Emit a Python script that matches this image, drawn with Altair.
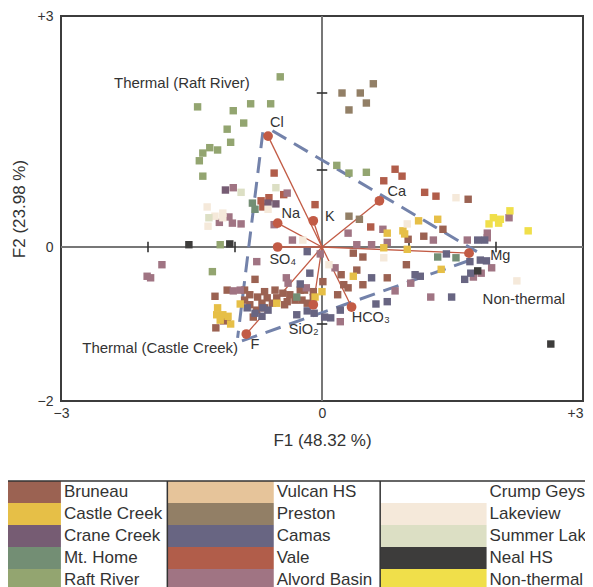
import altair as alt
import pandas as pd

FONT = "Liberation Sans"
TXT = "#333333"

groups = ["Bruneau", "Castle Creek", "Crane Creek", "Mt. Home", "Raft River",
          "Vulcan HS", "Preston", "Camas", "Vale", "Alvord Basin",
          "Crump Geyser", "Lakeview", "Summer Lake", "Neal HS", "Non-thermal"]
colors = ["#9b6252", "#e6bf47", "#765c73", "#738e74", "#93a570",
          "#e6c49a", "#927f66", "#686582", "#b15d4a", "#a07483",
          "#ffffff", "#f5e9da", "#dcdfc4", "#3d3c3b", "#f0df4a"]

# ---- sample scores (F1, F2) ----
bruneau_f1 = [1.68, 1.39, 1.17, 0.99, 0.36, 0.47, 0.22, 0.40, 0.25, 0.30, 0.47, 0.75, 0.97, 0.18, 0.01,
              -0.77, -1.23, -1.09, -0.89, -0.83, -0.74, -0.66, -0.54, -0.45, -0.37, -0.20, -0.10, -0.63,
              -0.52, -0.40, -0.57, -0.69, -0.83, -0.89, -0.66, -0.75, -0.79, -0.23, -0.17, -0.43, -0.10,
              -1.13, -1.22, -1.09, -0.25, -0.31]
bruneau_f2 = [0.62, 0.23, 0.14, 0.10, -0.08, -0.13, -0.36, -0.30, -0.49, -0.53, -0.49, -0.40, -0.23, -0.62, -0.45,
              -0.42, -0.64, -0.56, -0.56, -0.62, -0.65, -0.58, -0.56, -0.60, -0.62, -0.56, -0.58, -0.66,
              -0.66, -0.71, -0.73, -0.73, -0.75, -0.69, -0.79, -0.82, -0.91, -0.69, -0.73, -0.75, -0.66,
              -0.96, -1.05, -0.95, -0.56, -0.69]

castle_f1 = [-1.20, -1.21, -1.14, -1.08, -1.17, -1.05, -0.94, -0.52, 0.00, -0.08, 0.75, 0.93, 0.95, 0.71,
             0.98, 0.36, 1.37, 1.11, 1.33]
castle_f2 = [-0.79, -0.88, -0.88, -0.90, -0.95, -1.00, -0.74, -0.73, -0.58, -0.65, 0.18, 0.21, 0.17, -0.01,
             -0.03, -0.38, -0.29, 0.34, 0.36]

crane_f1 = [-1.11, -0.53, -0.62]
crane_f2 = [0.74, 0.56, 0.57]

mthome_f1 = [-0.80, -0.77, -0.29, 1.33, 1.54]
mthome_f2 = [0.57, 0.49, -0.65, -0.13, -0.14]

raft_f1 = [-0.48, -1.43, -0.82, -0.59, -1.02, -0.90, -1.09, -1.05, -1.37, -1.29, -1.20, -1.41, -1.37,
           0.17, 0.31, 0.51, -1.17, -1.26]
raft_f2 = [2.21, 1.82, 1.86, 1.86, 1.77, 1.61, 1.53, 1.36, 1.22, 1.29, 1.26, 1.12, 0.92,
           1.06, 0.96, 0.97, 0.03, -0.32]

preston_f1 = [0.59, 0.23, 0.44, 0.51, 0.31, 0.31, 0.43]
preston_f2 = [2.12, 2.00, 2.00, 1.87, 1.78, 0.40, 0.36]

camas_f1 = [-0.17, -0.14, -0.25, -0.86, -0.77, -0.68, -0.69, -0.62, -0.29, -0.17, -0.09, 0.03, 0.10, 0.21,
            0.57, 1.07, 1.13, 0.62, 0.75, 1.49, 1.64, 1.43, 1.79, 1.87, 1.70, 1.82, 1.89, 1.71]
camas_f2 = [-0.06, -0.34, -0.48, -0.79, -0.86, -0.79, -0.90, -0.82, -0.88, -0.83, -0.86, -0.91, -0.92, -0.82,
            -0.40, -0.36, -0.38, -0.74, -0.71, -0.65, -0.42, -0.09, 0.09, 0.09, -0.19, -0.17, -0.18, -0.34]

vale_f1 = [0.84, 0.92, 0.71, 1.18, 1.31, 0.56, -0.55, -0.61, -0.70, -0.68, -0.44, -0.08]
vale_f2 = [1.01, 0.92, 0.86, 0.71, 0.66, 0.26, 0.96, 0.64, 0.60, 0.52, 0.68, 0.55]

alvord_f1 = [-1.02, -1.07, -1.03, -0.93, -1.18, -0.40, -0.55, -0.34, -1.84, -2.01, -1.97, -0.75, -0.41,
             -0.39, -0.02, -0.18, -1.02, -0.94, 0.30, 0.40, 0.57, 0.75, 0.15, 0.84, 1.02, 1.28, 1.25,
             0.21, 1.67, 1.90, 1.90, 2.15, 1.95, 1.83, 1.74, 0.70]
alvord_f2 = [0.77, 0.39, 0.31, 0.30, 0.32, 0.70, 0.29, 0.09, -0.23, -0.38, -0.40, -0.19, -0.40,
             -0.47, -0.09, -0.53, -0.57, -0.56, 0.18, 0.03, 0.03, 0.06, -0.27, -0.57, -0.47, 0.09, -0.65,
             -0.97, 0.09, 0.18, 0.12, 0.38, -0.27, -0.34, -0.39, 0.23]

lakeview_f1 = [-1.32, -1.14, -1.23, -1.31, -1.14, -0.62, -0.22, 0.08, 0.71, 0.98, 1.54, 2.24]
lakeview_f2 = [0.52, 0.44, 0.40, 0.27, 0.38, 0.49, 0.09, -0.23, -0.14, 0.30, 0.64, -0.44]

summer_f1 = [-0.53, -0.93, -1.30]
summer_f2 = [0.77, 0.71, 0.38]

neal_f1 = [-1.53, -1.06, 1.79, 2.63]
neal_f2 = [0.03, 0.04, -0.31, -1.26]

nonthermal_f1 = [2.16, 1.97, 2.05, 2.03, 1.92, 2.37]
nonthermal_f2 = [0.47, 0.38, 0.36, 0.31, 0.30, 0.21]

scores = {
    "Bruneau": (bruneau_f1, bruneau_f2),
    "Vale": (vale_f1, vale_f2),
    "Preston": (preston_f1, preston_f2),
    "Alvord Basin": (alvord_f1, alvord_f2),
    "Crane Creek": (crane_f1, crane_f2),
    "Camas": (camas_f1, camas_f2),
    "Castle Creek": (castle_f1, castle_f2),
    "Lakeview": (lakeview_f1, lakeview_f2),
    "Summer Lake": (summer_f1, summer_f2),
    "Raft River": (raft_f1, raft_f2),
    "Mt. Home": (mthome_f1, mthome_f2),
    "Neal HS": (neal_f1, neal_f2),
    "Non-thermal": (nonthermal_f1, nonthermal_f2),
}

# ---- variable loadings ----
load_names = ["Cl", "Na", "K", "SO₄", "F", "SiO₂", "HCO₃", "Ca", "Mg"]
load_f1 = [-0.62, -0.51, -0.10, -0.51, -0.87, -0.10, 0.34, 0.66, 1.69]
load_f2 = [1.44, 0.31, 0.34, 0.00, -1.13, -0.75, -0.78, 0.60, -0.08]
label_f1 = [-0.52, -0.36, 0.09, -0.45, -0.77, -0.21, 0.56, 0.86, 2.05]
label_f2 = [1.61, 0.43, 0.39, -0.17, -1.27, -1.08, -0.92, 0.71, -0.12]

# ---- dashed envelope (three segments) ----
tri_x1 = [-0.57, -0.68, -0.92]
tri_y1 = [1.51, 1.49, -1.22]
tri_x2 = [1.78, -0.97, 1.78]
tri_y2 = [-0.06, -1.18, -0.14]

# ---- annotations ----
annot_text = ["Thermal (Raft River)", "Thermal (Castle Creek)", "Non-thermal"]
annot_f1 = [-1.61, -1.86, 2.32]
annot_f2 = [2.13, -1.31, -0.68]

xtick_vals = [-2, -1, 1, 2]
ytick_vals = [-1, 1, 2]

# ---------------- build tables ----------------
rows = []
for k, g in enumerate(scores):
    f1, f2 = scores[g]
    for a, b in zip(f1, f2):
        rows.append({"group": g, "F1": a, "F2": b, "k": k})
pts = pd.DataFrame(rows)

load_df = pd.DataFrame({"name": load_names, "F1": load_f1, "F2": load_f2,
                        "lx": label_f1, "ly": label_f2, "o": [0.0] * len(load_names)})
tri_df = pd.DataFrame({"x1": tri_x1, "y1": tri_y1, "x2": tri_x2, "y2": tri_y2})
annot_df = pd.DataFrame({"label": annot_text, "F1": annot_f1, "F2": annot_f2})
xt_df = pd.DataFrame({"F1": xtick_vals, "F2": [0] * len(xtick_vals)})
yt_df = pd.DataFrame({"F1": [0] * len(ytick_vals), "F2": ytick_vals})

sx = alt.Scale(domain=[-3, 3], nice=False, zero=False)
sy = alt.Scale(domain=[-2, 3], nice=False, zero=False)
cscale = alt.Scale(domain=groups, range=colors)

lab_expr = "datum.value > 0 ? '+' + datum.label : datum.label"
ax_x = alt.Axis(values=[-3, 0, 3], labelExpr=lab_expr, title="F1 (48.32 %)", grid=False, ticks=False,
                domain=False, labelFlush=False, labelFont=FONT, labelFontSize=14, labelColor=TXT,
                labelAlign={"condition": {"test": "datum.value >= 3", "value": "right"}, "value": "center"},
                labelPadding=5, titleFont=FONT, titleFontSize=17, titleFontWeight="normal",
                titleColor=TXT, titlePadding=12)
ax_y = alt.Axis(values=[-2, 0, 3], labelExpr=lab_expr, title="F2 (23.98 %)", grid=False, ticks=False,
                domain=False, labelFlush=False, labelFont=FONT, labelFontSize=14, labelColor=TXT,
                labelPadding=8, titleFont=FONT, titleFontSize=17, titleFontWeight="normal",
                titleColor=TXT, titlePadding=9)


def X(f):
    return alt.X(f, type="quantitative", scale=sx, axis=ax_x)


def Y(f):
    return alt.Y(f, type="quantitative", scale=sy, axis=ax_y)


zero_h = alt.Chart(pd.DataFrame({"F2": [0]})).mark_rule(color="#777777", strokeWidth=2).encode(y=Y("F2"))
zero_v = alt.Chart(pd.DataFrame({"F1": [0]})).mark_rule(color="#777777", strokeWidth=2).encode(x=X("F1"))
xticks = alt.Chart(xt_df).mark_point(shape="M0,-1L0,1", size=110, filled=False, color="#333333",
                                     strokeWidth=1.6, opacity=1).encode(x=X("F1"), y=Y("F2"))
yticks = alt.Chart(yt_df).mark_point(shape="M-1,0L1,0", size=110, filled=False, color="#333333",
                                     strokeWidth=1.6, opacity=1).encode(x=X("F1"), y=Y("F2"))
triangle = alt.Chart(tri_df).mark_rule(color="#7382aa", strokeWidth=3, strokeDash=[16, 9]).encode(
    x=X("x1"), y=Y("y1"), x2="x2", y2="y2")
vec_lines = alt.Chart(load_df).mark_rule(color="#c25b45", strokeWidth=1.3).encode(
    x=X("o"), y=Y("o"), x2="F1", y2="F2")
points = alt.Chart(pts).mark_square(size=55, opacity=1).encode(
    x=X("F1"), y=Y("F2"),
    color=alt.Color("group:N", scale=cscale, legend=None),
    order=alt.Order("k:Q"))
circles = alt.Chart(load_df).mark_circle(size=95, opacity=1, color="#c25b45").encode(x=X("F1"), y=Y("F2"))
vec_labels = alt.Chart(load_df).mark_text(font=FONT, fontSize=14.5, color=TXT).encode(
    x=X("lx"), y=Y("ly"), text="name:N")
annots = alt.Chart(annot_df).mark_text(font=FONT, fontSize=15, color=TXT).encode(
    x=X("F1"), y=Y("F2"), text="label:N")

biplot = alt.layer(zero_h, zero_v, xticks, yticks, triangle, vec_lines, points, circles, vec_labels, annots)

# ---------------- table legend ----------------
leg = pd.DataFrame({"group": groups,
                    "c0": [2 * (i // 5) for i in range(len(groups))],
                    "r0": [i % 5 for i in range(len(groups))]})
leg["c1"] = leg["c0"] + 1
leg["r1"] = leg["r0"] + 1
leg["rm"] = leg["r0"] + 0.5

lsx = alt.Scale(domain=[0, 6], range=[-106.5, 532], nice=False, zero=False)
lsy = alt.Scale(domain=[0, 5], range=[465, 575], nice=False, zero=False)


def LX(f):
    return alt.X(f, type="quantitative", scale=lsx, axis=None)


def LY(f):
    return alt.Y(f, type="quantitative", scale=lsy, axis=None)


swatch = alt.Chart(leg).mark_rect(opacity=1).encode(
    x=LX("c0"), x2="c1", y=LY("r0"), y2="r1",
    color=alt.Color("group:N", scale=cscale, legend=None))
ltext = alt.Chart(leg).mark_text(align="left", baseline="middle", dx=3, font=FONT, fontSize=17,
                                 color=TXT).encode(x=LX("c1"), y=LY("rm"), text="group:N")
hline = alt.Chart(pd.DataFrame({"a": [0], "b": [6], "r": [0]})).mark_rule(
    color="#333333", strokeWidth=1.5).encode(x=LX("a"), x2="b", y=LY("r"))
vlines = alt.Chart(pd.DataFrame({"c": [2, 4], "ra": [0, 0], "rb": [5, 5]})).mark_rule(
    color="#333333", strokeWidth=1.5).encode(x=LX("c"), y=LY("ra"), y2="rb")

legend = alt.layer(swatch, ltext, hline, vlines)

chart = alt.layer(biplot, legend).resolve_scale(x="independent", y="independent").properties(
    width=522, height=385,
    autosize=alt.AutoSizeParams(type="none"),
    padding={"left": 53, "top": 8, "right": 2, "bottom": 190},
).configure_view(stroke="#3c3c3c", strokeWidth=2)

chart.save("out.html", embed_options={"renderer": "svg", "actions": False})
